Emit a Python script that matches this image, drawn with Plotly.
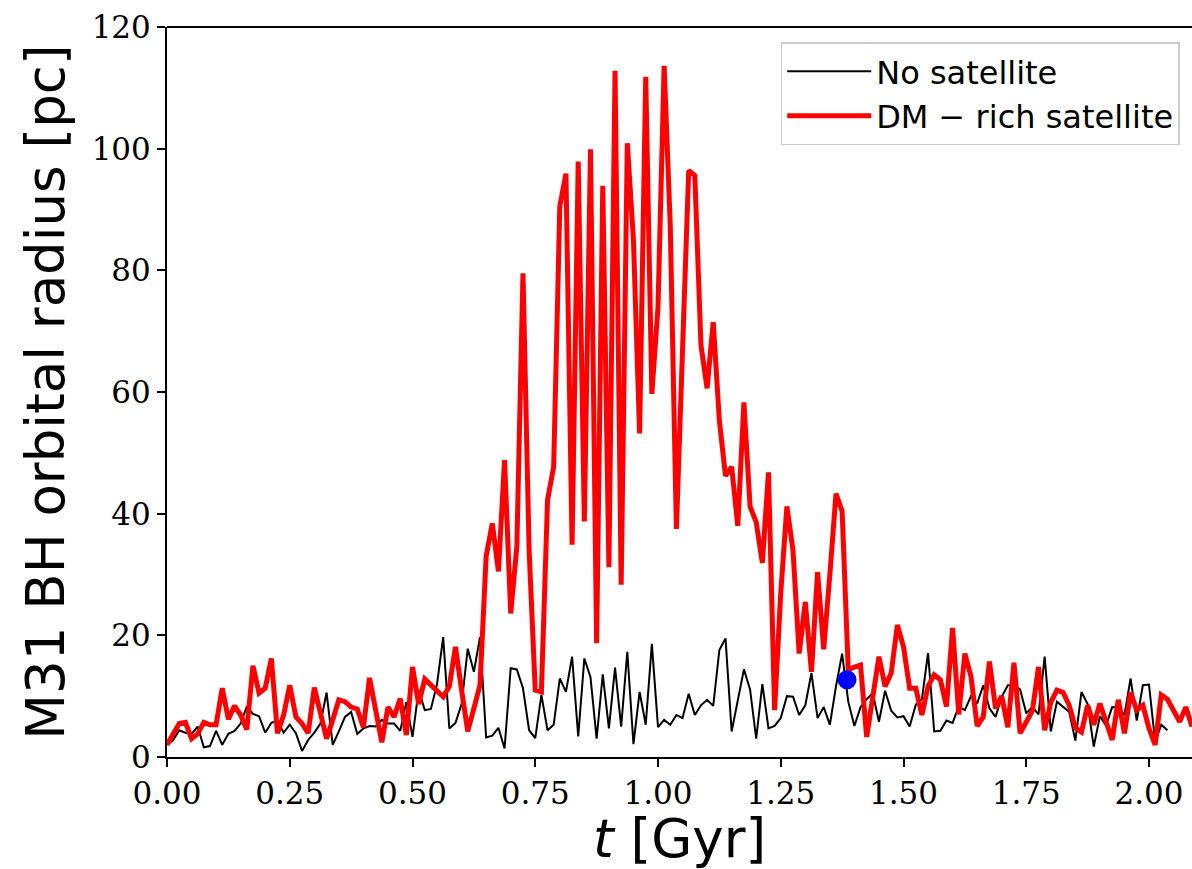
import plotly.graph_objects as go

# Time step between snapshots [Gyr]
dt = 0.0125

# M31 BH orbital radius [pc], no satellite
no_sat = [
    2.0, 2.8, 4.4, 4.0, 3.8, 5.0, 1.6, 1.8, 4.3, 2.0,
    3.8, 4.3, 5.5, 8.3, 7.1, 6.7, 4.0, 5.6, 6.0, 4.0,
    5.3, 3.9, 1.0, 2.8, 4.0, 5.5, 10.6, 2.0, 4.2, 6.6,
    7.4, 3.8, 4.7, 5.1, 5.0, 6.1, 5.5, 5.5, 4.3, 9.0,
    3.3, 11.0, 7.7, 7.9, 12.0, 19.7, 4.7, 5.6, 8.7, 17.8,
    14.0, 19.7, 3.2, 3.5, 4.8, 1.4, 14.6, 14.4, 11.3, 4.4,
    3.1, 10.2, 4.4, 5.3, 12.9, 10.7, 16.5, 3.4, 16.2, 13.1,
    3.0, 13.6, 4.7, 14.7, 5.0, 17.3, 2.1, 10.7, 5.3, 18.6,
    4.9, 6.1, 5.3, 6.9, 6.4, 10.4, 6.9, 8.5, 9.4, 8.4,
    17.6, 19.5, 4.2, 9.1, 14.4, 11.1, 3.0, 12.0, 4.7, 5.1,
    6.4, 10.0, 9.9, 6.9, 8.5, 13.8, 6.4, 8.2, 5.3, 11.6,
    17.0, 9.1, 5.1, 8.2, 9.5, 10.5, 5.8, 10.9, 7.6, 6.5,
    6.7, 5.0, 8.6, 9.5, 17.1, 4.2, 4.3, 6.0, 5.6, 8.3,
    7.7, 10.0, 8.8, 11.8, 8.0, 6.6, 9.9, 11.8, 11.8, 11.1,
    7.2, 8.2, 7.0, 16.5, 4.2, 9.1, 8.2, 7.4, 2.7, 10.7,
    8.7, 1.7, 6.7, 5.2, 8.2, 8.1, 6.9, 12.9, 6.0, 11.8,
    11.9, 2.5, 5.3, 4.4,
]

# M31 BH orbital radius [pc], DM-rich satellite
dm_rich = [
    2.0, 3.6, 5.5, 5.7, 3.0, 3.8, 5.7, 5.3, 5.3, 11.3,
    6.2, 8.4, 6.9, 4.5, 15.0, 10.5, 11.3, 16.2, 3.9, 6.9,
    11.8, 6.6, 5.5, 3.9, 11.4, 7.2, 3.0, 6.1, 9.4, 9.1,
    8.2, 7.9, 4.9, 13.0, 7.7, 2.4, 8.2, 6.6, 9.6, 3.6,
    14.8, 8.7, 12.8, 11.9, 10.9, 9.9, 11.6, 18.1, 11.0, 4.2,
    8.0, 11.8, 33.0, 38.4, 30.5, 48.8, 23.6, 34.6, 79.5, 34.0,
    11.0, 10.7, 42.2, 47.7, 90.5, 95.9, 34.9, 97.9, 38.7, 99.9,
    18.7, 93.9, 31.2, 112.8, 28.3, 100.9, 85.0, 53.2, 111.8, 59.7,
    74.0, 113.6, 87.3, 37.5, 67.0, 96.4, 95.6, 67.7, 60.6, 71.5,
    55.3, 46.2, 47.7, 38.0, 58.3, 41.2, 38.6, 31.9, 46.8, 7.7,
    27.0, 41.2, 33.9, 17.0, 25.5, 14.0, 30.4, 17.7, 30.0, 43.3,
    40.4, 14.3, 14.8, 15.1, 3.3, 10.0, 16.5, 11.6, 13.8, 21.7,
    18.1, 11.3, 11.3, 6.9, 11.6, 13.5, 12.7, 8.3, 21.2, 7.0,
    17.0, 13.2, 5.1, 6.6, 15.7, 8.0, 10.0, 4.9, 15.5, 3.9,
    5.8, 7.6, 14.8, 4.4, 9.0, 11.0, 10.6, 8.5, 4.8, 4.1,
    8.5, 5.3, 8.8, 6.0, 2.8, 9.4, 3.9, 10.6, 7.7, 8.5,
    4.7, 2.0, 10.2, 9.5, 7.7, 5.8, 8.2, 5.0,
]

# Highlighted moment
marker_t = [1.385]
marker_r = [12.7]

t_no = [i * dt for i in range(len(no_sat))]
t_dm = [i * dt for i in range(len(dm_rich))]

fig = go.Figure()
fig.add_trace(go.Scatter(
    x=t_no, y=no_sat, mode="lines", name="No satellite",
    line=dict(color="black", width=2),
))
fig.add_trace(go.Scatter(
    x=t_dm, y=dm_rich, mode="lines", name="DM \u2212 rich satellite",
    line=dict(color="#ff0000", width=5),
))
fig.add_trace(go.Scatter(
    x=marker_t, y=marker_r, mode="markers", showlegend=False,
    marker=dict(color="#0000ff", size=19, line=dict(width=0)),
))

W, H = 1192, 869
L, R, T, B = 167, 0, 27, 112
px_per_gyr = 491.0
xmax = (W - L - R) / px_per_gyr

tickfont = dict(family="DejaVu Serif", size=31, color="black")
labelfont = dict(family="DejaVu Sans", size=53, color="black")

fig.update_layout(
    width=W, height=H,
    margin=dict(l=L, r=R, t=T, b=B),
    paper_bgcolor="white", plot_bgcolor="white",
    showlegend=True,
    legend=dict(
        x=0.988, y=0.979, xanchor="right", yanchor="top",
        bgcolor="rgba(255,255,255,0.8)", bordercolor="#cccccc", borderwidth=1.5,
        font=dict(family="DejaVu Sans", size=32, color="black"),
        itemwidth=84,
    ),
    xaxis=dict(
        range=[0, xmax], dtick=0.25, tick0=0, tickformat=".2f",
        showgrid=False, zeroline=False,
        showline=True, linecolor="black", linewidth=2,
        ticks="outside", ticklen=8, tickwidth=1.5, tickcolor="black",
        tickfont=tickfont,
        title=dict(text="<i>t</i> [Gyr]", font=labelfont, standoff=6),
    ),
    yaxis=dict(
        range=[0, 120], dtick=20, tick0=0,
        showgrid=False, zeroline=False,
        showline=True, linecolor="black", linewidth=2,
        ticks="outside", ticklen=8, tickwidth=1.5, tickcolor="black",
        tickfont=tickfont,
        title=dict(text="M31 BH orbital radius [pc]", font=labelfont, standoff=10),
    ),
    shapes=[dict(type="line", xref="paper", yref="paper", x0=0, x1=1, y0=1, y1=1,
                 line=dict(color="black", width=2))],
)

fig.write_html("out.html")
